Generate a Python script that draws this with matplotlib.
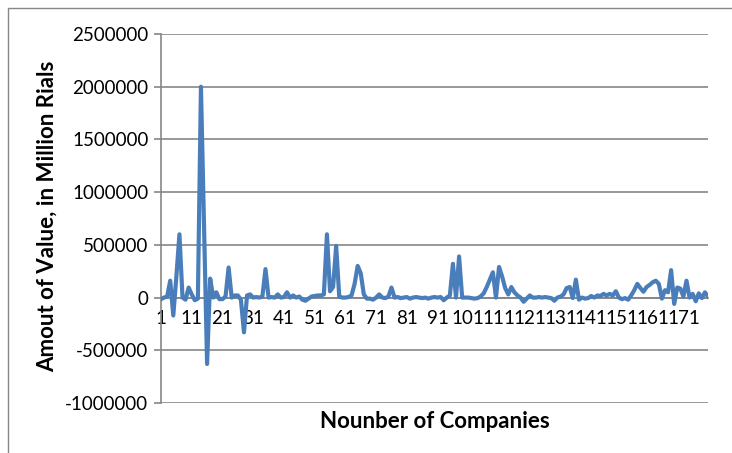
import matplotlib
matplotlib.use("Agg")
import matplotlib.pyplot as plt
from matplotlib.patches import Rectangle

values = [
    -15000, 0, 10000, 160000, -170000, 200000, 600000, 0, -20000, 95000,
    30000, -25000, -10000, 2000000, 700000, -630000, 180000, 0, 50000, -15000,
    -15000, 10000, 285000, 0, 20000, 20000, -20000, -330000, 20000, 30000,
    0, 5000, 0, 10000, 270000, 0, 5000, 0, 30000, 0,
    5000, 50000, 0, 20000, 0, 10000, -20000, -30000, -10000, 10000,
    15000, 20000, 20000, 30000, 600000, 60000, 100000, 490000, 10000, 0,
    0, 5000, 20000, 130000, 300000, 230000, 30000, -10000, -10000, -20000,
    0, 30000, 0, -5000, 10000, 95000, 0, 5000, -5000, 0,
    5000, -10000, 0, 5000, 0, -5000, 0, -10000, 0, 5000,
    0, 5000, -25000, 0, 20000, 320000, 0, 390000, 0, 0,
    0, -5000, -10000, -5000, 10000, 40000, 100000, 170000, 240000, 0,
    290000, 200000, 90000, 30000, 100000, 50000, 20000, 0, -40000, -10000,
    20000, 0, 0, 5000, 0, 5000, 0, -5000, -30000, 0,
    10000, 30000, 90000, 100000, -5000, 170000, -20000, 0, -10000, -5000,
    15000, 0, 20000, 15000, 35000, 20000, 35000, 20000, 60000, 0,
    -15000, -5000, -20000, 20000, 70000, 130000, 90000, 55000, 100000, 120000,
    145000, 160000, 130000, -10000, 70000, 50000, 260000, -60000, 95000, 85000,
    10000, 160000, 0, 35000, -35000, 40000, -5000, 50000, 10000,
]
companies = list(range(1, len(values) + 1))
x_tick_positions = list(range(1, len(values) + 1, 10))
x_tick_labels = [str(v) for v in x_tick_positions]
y_ticks = [-1000000, -500000, 0, 500000, 1000000, 1500000, 2000000, 2500000]

FONT = "Lato"
GRID = "#868686"
LINE = "#4A7EBB"

fig = plt.figure(figsize=(7.32, 4.53), dpi=100)
ax = fig.add_axes([161 / 732, 1 - 403 / 453, (708 - 161) / 732, (403 - 34) / 453])

for s in ["top", "right"]:
    ax.spines[s].set_visible(False)
ax.spines["left"].set_color(GRID)
ax.spines["left"].set_linewidth(1.2)
ax.spines["bottom"].set_position(("data", 0))
ax.spines["bottom"].set_color(GRID)
ax.spines["bottom"].set_linewidth(1.2)

ax.plot(companies, values, color=LINE, lw=3.0, solid_joinstyle="round", zorder=3)

ax.set_xlim(1, len(values))
ax.set_ylim(-1000000, 2500000)
ax.set_yticks(y_ticks)
ax.set_yticklabels([str(v) for v in y_ticks])
ax.yaxis.grid(True, color=GRID, lw=1.2, zorder=1)
ax.set_axisbelow(True)

ax.set_xticks(x_tick_positions)
ax.set_xticklabels(x_tick_labels)
ax.tick_params(axis="x", length=0, pad=9, labelsize=13.5, labelfontfamily=FONT)
ax.tick_params(axis="y", length=5, color=GRID, width=1.2, pad=4, labelsize=13.5,
               labelfontfamily=FONT)

fig.text(47 / 732, 1 - 216 / 453, "Amout of Value, in Million Rials", rotation=90,
         ha="center", va="center", fontfamily=FONT, fontsize=16, fontweight="bold")
fig.text(435 / 732, 1 - 422 / 453, "Nounber of Companies",
         ha="center", va="center", fontfamily=FONT, fontsize=16, fontweight="bold")

fig.patches.append(Rectangle((8 / 732, -0.1), 2, 1 - 8 / 453 + 0.1, transform=fig.transFigure,
                             fill=False, edgecolor=GRID, lw=1.0))

fig.savefig("out.png", dpi=100)
